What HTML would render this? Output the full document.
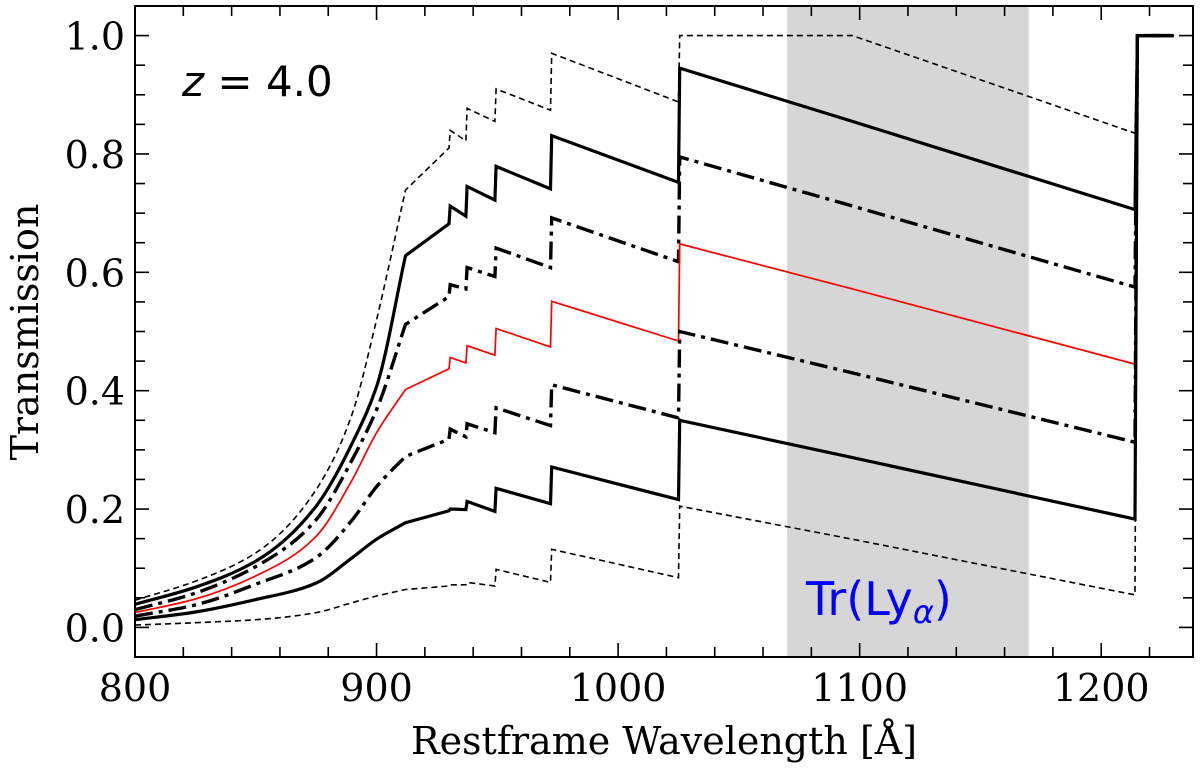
<!DOCTYPE html>
<html><head><meta charset="utf-8"><style>
html,body{margin:0;padding:0;background:#fff;}
svg{display:block;}
</style></head><body>
<svg id="chart" width="1200" height="776" viewBox="0 0 1200 776" xmlns="http://www.w3.org/2000/svg">
<g id="plot"></g>
</svg>
<script>
const wavelengths = [800,825,850,875,890,900,912,930,930.5,937,937.5,949,949.5,972,972.5,1025,1025.5,1097,1214,1215,1230];
const dashedTop = [0.046,0.078,0.126,0.233,0.362,0.52,0.739,0.81,0.84,0.822,0.877,0.855,0.91,0.874,0.97,0.888,1.0,1.0,0.835,1,1];
const solidTop = [0.039,0.068,0.112,0.205,0.312,0.407,0.628,0.682,0.712,0.695,0.745,0.722,0.779,0.741,0.831,0.752,0.945,0.855,0.706,1,1];
const dashdotTop = [0.03,0.058,0.103,0.182,0.284,0.368,0.512,0.559,0.579,0.572,0.608,0.593,0.641,0.608,0.692,0.618,0.795,0.712,0.575,1,1];
const median = [0.025,0.048,0.087,0.154,0.25,0.329,0.402,0.437,0.456,0.447,0.476,0.46,0.505,0.474,0.551,0.484,0.648,0.572,0.445,1,1];
const dashdotBottom = [0.019,0.038,0.073,0.118,0.182,0.238,0.289,0.318,0.335,0.322,0.344,0.329,0.371,0.341,0.41,0.354,0.5,0.43,0.313,1,1];
const solidBottom = [0.013,0.026,0.047,0.075,0.118,0.149,0.177,0.197,0.2,0.199,0.213,0.196,0.235,0.209,0.271,0.216,0.35,0.287,0.183,1,1];
const dashedBottom = [0.004,0.008,0.013,0.025,0.042,0.053,0.064,0.07,0.072,0.072,0.076,0.07,0.098,0.076,0.132,0.084,0.205,0.149,0.055,1,1];
const xTickLabels = [800,900,1000,1100,1200];
const yTickLabels = ["0.0","0.2","0.4","0.6","0.8","1.0"];
const shadeRange = [1070,1170];

const NS = "http://www.w3.org/2000/svg";
const L = 135, R = 1193, T = 6, B = 657;
const xMin = 800, xMax = 1238, yMin = -0.05, yMax = 1.05;
const SMOOTH_N = 7;
function sx(v){ return L + (v - xMin) / (xMax - xMin) * (R - L); }
function sy(v){ return B - (v - yMin) / (yMax - yMin) * (B - T); }
const g = document.getElementById('plot');
function mk(tag, attrs, parent){ const e = document.createElementNS(NS, tag); for (const k in attrs) e.setAttribute(k, attrs[k]); (parent||g).appendChild(e); return e; }

const shade = mk('rect', {x: sx(shadeRange[0]), y: T, width: sx(shadeRange[1]) - sx(shadeRange[0]), height: B - T, fill: '#d6d6d6'});



const seriesList = [
  {data: dashedTop, name: 'series-upper-dashed', stroke: '#000', w: 1.6, dash: '6,4'},
  {data: solidTop, name: 'series-upper-solid', stroke: '#000', w: 3.2, dash: ''},
  {data: dashdotTop, name: 'series-upper-dashdot', stroke: '#000', w: 3.4, dash: '18,6,4,6'},
  {data: median, name: 'series-median-red', stroke: '#ff0000', w: 1.7, dash: ''},
  {data: dashdotBottom, name: 'series-lower-dashdot', stroke: '#000', w: 3.4, dash: '18,6,4,6'},
  {data: solidBottom, name: 'series-lower-solid', stroke: '#000', w: 3.2, dash: ''},
  {data: dashedBottom, name: 'series-lower-dashed', stroke: '#000', w: 1.6, dash: '6,4'}
];
function buildPath(data){
  const P = wavelengths.map((w, i) => [sx(w), sy(data[i])]);
  const n = SMOOTH_N;
  const sl = [];
  for (let i = 0; i < n - 1; i++) sl.push((P[i+1][1] - P[i][1]) / (P[i+1][0] - P[i][0]));
  const m = [];
  for (let i = 0; i < n; i++) {
    if (i === 0) m.push(sl[0]);
    else if (i === n - 1) m.push(sl[n - 2]);
    else {
      const h0 = P[i][0] - P[i-1][0], h1 = P[i+1][0] - P[i][0];
      m.push(sl[i-1] * sl[i] <= 0 ? 0 : (h0 + h1) / ((h0) / sl[i] + (h1) / sl[i-1]) * 1 );
    }
  }
  let d = 'M' + P[0][0].toFixed(1) + ',' + P[0][1].toFixed(1);
  for (let i = 0; i < n - 1; i++) {
    const h = P[i+1][0] - P[i][0];
    const c1 = [P[i][0] + h / 3, P[i][1] + m[i] * h / 3];
    const c2 = [P[i+1][0] - h / 3, P[i+1][1] - m[i+1] * h / 3];
    d += ' C' + c1[0].toFixed(1) + ',' + c1[1].toFixed(1) + ' ' + c2[0].toFixed(1) + ',' + c2[1].toFixed(1) + ' ' + P[i+1][0].toFixed(1) + ',' + P[i+1][1].toFixed(1);
  }
  for (let i = n; i < P.length; i++) d += ' L' + P[i][0].toFixed(1) + ',' + P[i][1].toFixed(1);
  return d;
}
seriesList.forEach(s => {
  const attrs = {d: buildPath(s.data), fill: 'none', stroke: s.stroke, 'stroke-width': s.w, 'stroke-linejoin': 'miter'};
  if (s.dash) attrs['stroke-dasharray'] = s.dash;
  const p = mk('path', attrs);
  
  
});

const frame = mk('rect', {x: L, y: T, width: R - L, height: B - T, fill: 'none', stroke: '#000', 'stroke-width': 2});



for (let v = 800; v <= 1238; v += 20) {
  const major = (v % 100 === 0);
  const len = major ? 14 : 10;
  const x = sx(v);
  mk('line', {x1: x, x2: x, y1: B, y2: B - len, stroke: '#000', 'stroke-width': 1.6});
  mk('line', {x1: x, x2: x, y1: T, y2: T + len, stroke: '#000', 'stroke-width': 1.6});
}
xTickLabels.forEach(v => {
  const t = mk('text', {x: sx(v), y: 701, 'text-anchor': 'middle', 'font-family': '"DejaVu Serif","Liberation Serif",serif', 'font-size': 38, fill: '#000'});
  t.textContent = v;
  
  
});
for (let k = -1; k <= 21; k++) {
  const v = k * 0.05;
  const major = (k % 4 === 0);
  const len = major ? 14 : 10;
  const y = sy(v);
  if (y < T || y > B) continue;
  mk('line', {x1: L, x2: L + len, y1: y, y2: y, stroke: '#000', 'stroke-width': 1.6});
  mk('line', {x1: R, x2: R - len, y1: y, y2: y, stroke: '#000', 'stroke-width': 1.6});
}
yTickLabels.forEach(lbl => {
  const t = mk('text', {x: 125, y: sy(parseFloat(lbl)) + 14, 'text-anchor': 'end', 'font-family': '"DejaVu Serif","Liberation Serif",serif', 'font-size': 38, fill: '#000'});
  t.textContent = lbl;
  
  
});

const xt = mk('text', {x: 664, y: 754, 'text-anchor': 'middle', 'font-family': '"DejaVu Serif","Liberation Serif",serif', 'font-size': 38, fill: '#000'});
xt.textContent = 'Restframe Wavelength [Å]';


const yt = mk('text', {x: 0, y: 0, transform: 'translate(38,332) rotate(-90)', 'text-anchor': 'middle', 'font-family': '"DejaVu Serif","Liberation Serif",serif', 'font-size': 38, fill: '#000'});
yt.textContent = 'Transmission';



const zt = mk('text', {x: 182, y: 96, 'font-family': '"DejaVu Sans","Liberation Sans",sans-serif', 'font-size': 42, fill: '#000'});
zt.innerHTML = '<tspan font-style="italic">z</tspan> = 4.0';


const lt = mk('text', {x: 806, y: 615, 'font-family': '"DejaVu Sans","Liberation Sans",sans-serif', 'font-size': 46, fill: '#0000ff'});
lt.innerHTML = 'Tr(Ly<tspan font-style="italic" font-size="32" dy="8">α</tspan><tspan dy="-8">)</tspan>';


</script>
</body></html>
